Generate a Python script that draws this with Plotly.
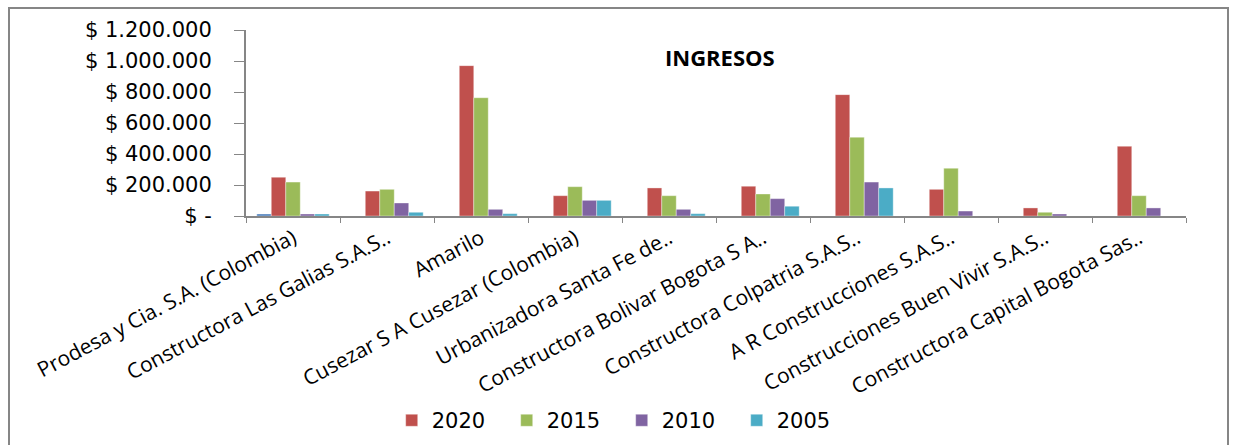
import plotly.graph_objects as go

# empresas (eje x)
empresas = [
    "Prodesa y Cia. S.A. (Colombia)",
    "Constructora Las Galias S.A.S..",
    "Amarilo",
    "Cusezar S A Cusezar (Colombia)",
    "Urbanizadora Santa Fe de..",
    "Constructora Bolivar Bogota S A..",
    "Constructora Colpatria S.A.S..",
    "A R Construcciones S.A.S..",
    "Construcciones Buen Vivir S.A.S..",
    "Constructora Capital Bogota Sas..",
]

# ingresos por año
serie_1 = [13000, 0, 0, 0, 0, 0, 0, 0, 0, 0]
ing_2020 = [250000, 161000, 970000, 131000, 181000, 192000, 783000, 172000, 52000, 450000]
ing_2015 = [219000, 172000, 763000, 189000, 131000, 142000, 508000, 308000, 24000, 131000]
ing_2010 = [13000, 84000, 43000, 101000, 43000, 112000, 219000, 32000, 13000, 52000]
ing_2005 = [13000, 24000, 15000, 101000, 15000, 63000, 181000, 0, 0, 0]

tick_vals = [0, 200000, 400000, 600000, 800000, 1000000, 1200000]
tick_text = ["$ -", "$ 200.000", "$ 400.000", "$ 600.000", "$ 800.000",
             "$ 1.000.000", "$ 1.200.000"]

fig = go.Figure()
series = [
    ("Serie1", serie_1, "#4F81BD", False),
    ("2020", ing_2020, "#C0504D", True),
    ("2015", ing_2015, "#9BBB59", True),
    ("2010", ing_2010, "#8064A2", True),
    ("2005", ing_2005, "#4BACC6", True),
]
for name, vals, color, show in series:
    fig.add_trace(go.Bar(
        x=empresas, y=vals, name=name, showlegend=show,
        marker=dict(color=color, line=dict(color="rgba(255,255,255,0.6)", width=0.6)),
    ))

fig.update_layout(
    width=1233, height=445,
    barmode="group", bargap=0.23, bargroupgap=0,
    paper_bgcolor="white", plot_bgcolor="white",
    margin=dict(l=246, r=47, t=30, b=229, autoexpand=False),
    font=dict(family="DejaVu Sans", color="black"),
    legend=dict(orientation="h", x=0.155, xanchor="left", y=-1.10, yanchor="middle",
                font=dict(size=21, family="DejaVu Sans"), traceorder="normal",
                itemwidth=30, entrywidth=70, entrywidthmode="pixels"),
    xaxis=dict(
        tickangle=-28, tickfont=dict(family="Open Sans", size=21),
        showline=True, linecolor="#868686", linewidth=2,
        ticks="outside", tickson="boundaries", ticklen=5, tickcolor="#868686",
        showgrid=False, automargin=False,
    ),
    yaxis=dict(
        range=[0, 1200000], tickvals=tick_vals, ticktext=tick_text,
        tickfont=dict(family="DejaVu Sans", size=21), ticklabelstandoff=18,
        showline=True, linecolor="#868686", linewidth=2,
        ticks="outside", ticklen=10, tickcolor="#868686",
        showgrid=False, zeroline=False, automargin=False,
    ),
    annotations=[dict(
        text="<b>INGRESOS</b>", x=0.504, y=0.855, xref="paper", yref="paper",
        xanchor="center", yanchor="middle",
        showarrow=False, font=dict(family="Open Sans", size=22, color="black"),
    )],
    shapes=[dict(
        type="rect", xref="paper", yref="paper",
        x0=(9 - 246) / 940, x1=(1228 - 246) / 940,
        y0=(216 - 460) / 186, y1=(216 - 8) / 186,
        line=dict(color="#868686", width=2), fillcolor="rgba(0,0,0,0)",
    )],
)

fig.write_html("out.html", config={"displayModeBar": False},
               post_script="document.body.style.margin='0';")
